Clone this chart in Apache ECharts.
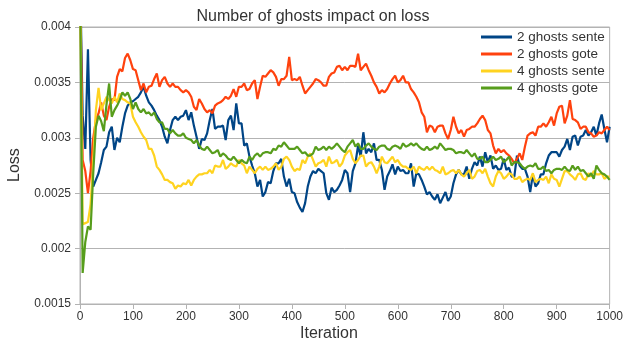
<!DOCTYPE html>
<html><head><meta charset="utf-8">
<script src="https://cdn.jsdelivr.net/npm/echarts@6/dist/echarts.min.js"></script>
<style>html,body{margin:0;padding:0;background:#fff}#c{width:626px;height:345px}</style>
</head><body><div id="c"></div>
<script>
// iteration grid (every 5 iterations, 0..1000)
const iterations = [];
for (let i = 0; i <= 1000; i += 5) iterations.push(i);

const seriesNames = ['2 ghosts sente', '2 ghosts gote', '4 ghosts sente', '4 ghosts gote'];

const sente2 = [0.0045,0.0032,0.0029,0.0038,0.0028,0.00256,0.00262,0.00268,0.00278,0.00289,0.00292,0.00305,0.0031,0.00289,0.003,0.00296,0.0031,0.00322,0.00329,0.00332,
0.00333,0.00335,0.00337,0.00341,0.00346,0.00338,0.00332,0.00329,0.00325,0.0032,0.00316,0.0031,0.00301,0.00295,0.00307,0.00316,0.00319,0.00316,0.00319,0.0032,
0.00325,0.00316,0.00323,0.00311,0.00301,0.0029,0.00299,0.00298,0.00304,0.00316,0.00326,0.00308,0.0031,0.0031,0.00311,0.00298,0.00316,0.0032,0.00307,0.00331,
0.00313,0.00313,0.00293,0.00295,0.00283,0.00275,0.00268,0.00256,0.00262,0.00247,0.00251,0.0026,0.00259,0.0027,0.00277,0.00277,0.00281,0.00265,0.00256,0.00263,
0.00251,0.0025,0.00242,0.00237,0.00233,0.00241,0.00256,0.00265,0.0027,0.00268,0.00272,0.0027,0.00268,0.0025,0.00244,0.00255,0.00251,0.00253,0.00257,0.00262,
0.00271,0.00268,0.00251,0.0027,0.00277,0.00293,0.00283,0.00305,0.00286,0.0029,0.00287,0.00295,0.0028,0.0028,0.00271,0.00253,0.00265,0.0027,0.00276,0.00267,
0.00274,0.0027,0.00271,0.00268,0.00268,0.00277,0.00256,0.00268,0.00267,0.00262,0.00256,0.00249,0.00251,0.00247,0.00244,0.00249,0.00241,0.00246,0.00251,0.00243,
0.00247,0.00259,0.00267,0.00271,0.00267,0.00267,0.00274,0.00263,0.00272,0.00278,0.00275,0.00283,0.00274,0.00287,0.00278,0.00284,0.00272,0.00275,0.00271,0.00272,
0.00281,0.00271,0.00273,0.00265,0.00265,0.00284,0.00275,0.00272,0.00272,0.00265,0.00251,0.00267,0.00256,0.00259,0.00267,0.00267,0.00277,0.00284,0.00287,0.00287,
0.00287,0.00283,0.00289,0.00292,0.00299,0.00289,0.00301,0.00302,0.00293,0.00301,0.00302,0.00307,0.00302,0.00305,0.0031,0.00302,0.00313,0.00321,0.00308,0.00296,
0.0031];

const gote2 = [0.0045,0.0028,0.0027,0.0025,0.0027,0.003,0.00316,0.00322,0.00332,0.0032,0.00316,0.00328,0.00335,0.00334,0.00355,0.00362,0.0036,0.00372,0.00376,0.0037,
0.00362,0.00361,0.00352,0.00343,0.00349,0.00341,0.00346,0.00347,0.00353,0.00358,0.00346,0.00352,0.00355,0.00349,0.00346,0.00349,0.00346,0.00346,0.00343,0.00341,
0.00343,0.00341,0.00337,0.00328,0.00325,0.00335,0.00331,0.00326,0.00323,0.00325,0.00322,0.00329,0.00331,0.00332,0.00334,0.00337,0.00335,0.00338,0.00344,0.00337,
0.00346,0.00346,0.00349,0.00343,0.00344,0.00349,0.00352,0.00335,0.00346,0.00356,0.00355,0.00358,0.00361,0.00359,0.00355,0.00347,0.00353,0.00353,0.00356,0.00373,
0.00352,0.00353,0.00352,0.00355,0.00347,0.0034,0.00343,0.00346,0.00349,0.00353,0.00352,0.0035,0.00347,0.00347,0.00355,0.00358,0.00359,0.00364,0.00365,0.00361,
0.00364,0.00361,0.00365,0.00365,0.00364,0.00376,0.00361,0.00364,0.00367,0.00361,0.00356,0.0035,0.00346,0.0034,0.00343,0.00341,0.00344,0.00349,0.00353,0.00356,
0.0035,0.00352,0.00356,0.0035,0.0035,0.00344,0.00341,0.00337,0.00332,0.00323,0.00319,0.00305,0.00311,0.0031,0.00305,0.0031,0.00311,0.00311,0.00304,0.00299,
0.00307,0.00319,0.0031,0.00304,0.00307,0.00301,0.00307,0.00308,0.0031,0.0031,0.00313,0.00317,0.0032,0.00316,0.00307,0.00304,0.00293,0.00286,0.0029,0.00287,
0.00289,0.00286,0.00284,0.00281,0.00277,0.00281,0.00286,0.0028,0.00292,0.00302,0.00304,0.00305,0.00302,0.0031,0.0031,0.00313,0.0031,0.00314,0.00319,0.00311,
0.00322,0.00328,0.00329,0.00313,0.0032,0.00334,0.00317,0.00316,0.00314,0.00308,0.0031,0.0031,0.00305,0.00304,0.00301,0.00302,0.00305,0.00304,0.00307,0.0031,
0.00307];

const sente4 = [0.0045,0.00222,0.00223,0.00224,0.0024,0.0028,0.00325,0.00345,0.00325,0.00331,0.00337,0.00334,0.00331,0.00337,0.00332,0.0034,0.00335,0.00334,0.00332,0.00331,
0.00319,0.00314,0.0031,0.00305,0.00301,0.00298,0.0029,0.0029,0.00284,0.00274,0.00271,0.00267,0.00262,0.00262,0.0026,0.00259,0.00254,0.00257,0.00256,0.00259,
0.00258,0.00262,0.00257,0.00262,0.00265,0.00267,0.00267,0.00268,0.00268,0.00271,0.00268,0.00275,0.00274,0.00274,0.0028,0.00272,0.00274,0.00277,0.00275,0.00274,
0.0028,0.00277,0.00275,0.00268,0.00274,0.00271,0.00268,0.00272,0.00274,0.00271,0.00274,0.00271,0.00272,0.00274,0.00277,0.00271,0.00274,0.00281,0.00283,0.0028,
0.00274,0.0027,0.00272,0.00271,0.0028,0.00277,0.00283,0.00286,0.0028,0.00274,0.00277,0.00278,0.0028,0.00274,0.00283,0.00277,0.00278,0.0028,0.00274,0.00277,
0.00284,0.00287,0.00289,0.00281,0.00277,0.0028,0.00284,0.00284,0.00274,0.00277,0.00278,0.00274,0.00268,0.00274,0.00283,0.00278,0.00277,0.0028,0.00283,0.00278,
0.0028,0.00276,0.00274,0.00274,0.00272,0.00271,0.00274,0.00268,0.00274,0.00272,0.00271,0.00274,0.00271,0.00274,0.00271,0.0027,0.00268,0.00274,0.00267,0.00268,
0.0027,0.00271,0.00268,0.00271,0.00267,0.00265,0.00268,0.00271,0.00263,0.00265,0.0027,0.00271,0.00268,0.00272,0.00265,0.00259,0.00256,0.00265,0.0027,0.00268,
0.00263,0.00265,0.00268,0.00267,0.00263,0.00263,0.00265,0.0026,0.00262,0.00263,0.00262,0.00268,0.0026,0.00262,0.00263,0.00262,0.00265,0.00259,0.00267,0.00263,
0.00262,0.00256,0.00263,0.0027,0.0027,0.00267,0.00265,0.00262,0.00267,0.00268,0.00263,0.00262,0.00268,0.00265,0.0027,0.00267,0.00267,0.00268,0.00263,0.00265,
0.00265];

const gote4 = [0.0045,0.00178,0.00206,0.0022,0.00217,0.00268,0.0031,0.0032,0.00315,0.00306,0.0033,0.00349,0.00319,0.00325,0.00329,0.00334,0.00341,0.00338,0.00341,0.00335,
0.00326,0.00332,0.00326,0.00323,0.00326,0.00322,0.00323,0.0032,0.00323,0.00317,0.00314,0.00314,0.00308,0.00308,0.00304,0.00307,0.00304,0.00302,0.00302,0.00304,
0.003,0.00299,0.00298,0.00295,0.00298,0.00293,0.0029,0.00289,0.00292,0.00289,0.00286,0.00287,0.00289,0.00283,0.00286,0.00284,0.00281,0.0028,0.00283,0.0028,
0.00277,0.0028,0.00278,0.00277,0.00283,0.0028,0.00284,0.00286,0.00283,0.00286,0.00287,0.00287,0.00286,0.0029,0.00289,0.00293,0.00292,0.00296,0.00293,0.0029,
0.0029,0.0029,0.00292,0.00289,0.00286,0.00287,0.00284,0.00284,0.00286,0.00292,0.00289,0.0029,0.00292,0.00289,0.00292,0.0029,0.00292,0.00295,0.00292,0.00289,
0.00287,0.00292,0.00295,0.00298,0.00292,0.00295,0.0029,0.0029,0.00293,0.00295,0.00292,0.0029,0.00289,0.00292,0.00293,0.00293,0.0029,0.00289,0.00292,0.00293,
0.00292,0.0029,0.00295,0.00292,0.00293,0.00295,0.00293,0.00295,0.00292,0.0029,0.00289,0.00292,0.00289,0.0029,0.00292,0.0029,0.00295,0.00292,0.00289,0.0029,
0.0029,0.00289,0.00286,0.00287,0.00287,0.00286,0.00289,0.00286,0.00283,0.00286,0.00281,0.00281,0.00283,0.00278,0.00278,0.0028,0.00283,0.0028,0.00281,0.00283,
0.00278,0.0028,0.00283,0.00275,0.00278,0.00278,0.00277,0.00274,0.00272,0.00274,0.00275,0.00274,0.00277,0.00272,0.00272,0.00274,0.0027,0.00271,0.00268,0.00271,
0.00272,0.00272,0.00271,0.00274,0.00271,0.0027,0.00275,0.00271,0.00274,0.0027,0.00271,0.00268,0.00265,0.00268,0.00263,0.00275,0.00271,0.00268,0.00267,0.00265,
0.00262];

const colors = ['#004586', '#ff420e', '#ffd320', '#579d1c'];
const yTicks = { min: 0.0015, max: 0.004, step: 0.0005 };
const xTicks = { min: 0, max: 1000, step: 100 };

const allData = [sente2, gote2, sente4, gote4];
const FONT = '"Liberation Sans", Arial, sans-serif';

const chart = echarts.init(document.getElementById('c'), null, { renderer: 'canvas' });
chart.setOption({
  animation: false,
  backgroundColor: '#fff',
  color: colors,
  title: {
    text: 'Number of ghosts impact on loss',
    left: 'center', top: 4,
    textStyle: { fontFamily: FONT, fontSize: 16, fontWeight: 'normal', color: '#333' }
  },
  legend: {
    orient: 'vertical', left: 481, top: 30, padding: 0,
    itemWidth: 31, itemHeight: 3, itemGap: 3, icon: 'rect',
    data: seriesNames,
    textStyle: { fontFamily: FONT, fontSize: 13.5, lineHeight: 14, color: '#333' }
  },
  grid: { left: 80, right: 14, top: 27, bottom: 41, show: true, borderColor: '#b3b3b3', borderWidth: 1, backgroundColor: 'transparent' },
  xAxis: {
    type: 'value', min: xTicks.min, max: xTicks.max, interval: xTicks.step,
    axisLine: { show: true, lineStyle: { color: '#b3b3b3' } },
    axisTick: { show: true, length: 5, lineStyle: { color: '#b3b3b3' } },
    axisLabel: { fontFamily: FONT, fontSize: 12, color: '#333', margin: 7,
      formatter: v => String(v) },
    splitLine: { show: false }
  },
  yAxis: {
    type: 'value', min: yTicks.min, max: yTicks.max, interval: yTicks.step,
    axisLine: { show: true, lineStyle: { color: '#b3b3b3' } },
    axisTick: { show: true, length: 5, lineStyle: { color: '#b3b3b3' } },
    axisLabel: { fontFamily: FONT, fontSize: 12, color: '#333', margin: 9,
      formatter: v => String(+v.toFixed(4)) },
    splitLine: { show: true, lineStyle: { color: '#b3b3b3', width: 1 } }
  },
  graphic: [
    { type: 'text', left: 300, top: 326, style: { text: 'Iteration', font: '16px ' + FONT, fill: '#333' } },
    { type: 'text', x: 7, y: 182, rotation: Math.PI / 2, style: { text: 'Loss', font: '16px ' + FONT, fill: '#333' } }
  ],
  series: seriesNames.map((name, k) => ({
    name, type: 'line', showSymbol: false, clip: true,
    lineStyle: { width: 2.2, color: colors[k] },
    data: iterations.map((it, j) => [it, allData[k][j]])
  }))
});
</script>
</body></html>
